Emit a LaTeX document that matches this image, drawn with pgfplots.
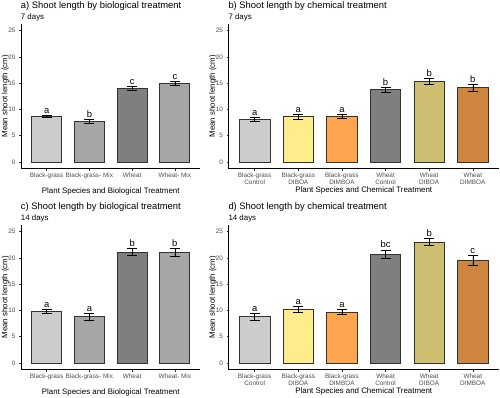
\documentclass[border=0pt]{standalone}
\usepackage{fontspec}
\setmainfont{Liberation Sans}
\usepackage{pgfplots}
\pgfplotsset{compat=1.18}

\definecolor{g80}{HTML}{CCCCCC}
\definecolor{g65}{HTML}{A6A6A6}
\definecolor{g50}{HTML}{7F7F7F}
\definecolor{ylw}{HTML}{FFEC8B}
\definecolor{org}{HTML}{FFA54F}
\definecolor{khk}{HTML}{CDBE70}
\definecolor{peru}{HTML}{CD853F}
\definecolor{tickgray}{HTML}{4D4D4D}

\pgfplotsset{
 panel/.style={
  scale only axis,
  height=144.5pt,
  ymin=-1.25, ymax=26.25,
  ytick={0,5,10,15,20,25},
  axis lines=left,
  axis line style={-, black, line width=0.6pt},
  tick align=outside,
  major tick length=2pt,
  tick style={black!80, line width=0.5pt},
  ticklabel style={font=\fontsize{6.4}{7.2}\selectfont, text=tickgray},
  /pgf/number format/assume math mode=true,
  xticklabel style={align=center, yshift=1.5pt},
  every axis y label/.style={at={([xshift=-15.7pt]axis description cs:0,0.5)}, rotate=90, anchor=center, font=\fontsize{7.8}{9}\selectfont},
  every axis x label/.style={at={(axis description cs:0.5,0)}, anchor=center, yshift=-22.5pt, font=\fontsize{7.9}{9}\selectfont},
  ylabel={Mean shoot length (cm)},
  clip=false,
 },
 bar/.style={ybar, bar shift=0pt, bar width=0.7, fill=#1, draw=black!80, line width=0.8pt,
   error bars/.cd, y dir=both, y explicit,
   error bar style={black, line width=0.6pt},
   error mark=-,
   error mark options={rotate=90, black, line width=0.6pt, mark size=5pt}},
}
\tikzset{ttl/.style={anchor=base west, inner sep=0pt, font=\fontsize{9.4}{11}\selectfont},
         sub/.style={anchor=base west, inner sep=0pt, font=\fontsize{7.9}{9}\selectfont},
         lbl/.style={anchor=base, yshift=2pt, inner sep=0pt, font=\fontsize{9.4}{11}\selectfont}}

\begin{document}
\begin{tikzpicture}
\useasboundingbox (0,0) rectangle (500pt,397pt);

% ---------- a ----------
\begin{axis}[panel, at={(21pt,228.5pt)}, anchor=south west, width=179.5pt,
  xmin=0.4, xmax=4.6, xtick={1,2,3,4},
  xticklabels={Black-grass, Black-grass- Mix, Wheat, Wheat- Mix},
  xlabel={Plant Species and Biological Treatment}]
\addplot[bar=g80] coordinates {(1,8.73) +- (0,0.2)};
\addplot[bar=g65] coordinates {(2,7.72) +- (0,0.42)};
\addplot[bar=g50] coordinates {(3,13.99) +- (0,0.42)};
\addplot[bar=g65] coordinates {(4,15.0) +- (0,0.4)};
\node[lbl] at (axis cs:1,8.93) {a};
\node[lbl] at (axis cs:2,8.14) {b};
\node[lbl] at (axis cs:3,14.41) {c};
\node[lbl] at (axis cs:4,15.4) {c};
\end{axis}

% ---------- b ----------
\begin{axis}[panel, at={(228.5pt,228.5pt)}, anchor=south west, width=270.5pt,
  xmin=0.4, xmax=6.6, xtick={1,2,3,4,5,6},
  xticklabels={Black-grass\\Control, Black-grass\\DIBOA, Black-grass\\DIMBOA, Wheat\\Control, Wheat\\DIBOA, Wheat\\DIMBOA},
  xlabel={Plant Species and Chemical Treatment},
  every axis x label/.append style={yshift=1pt}]
\addplot[bar=g80] coordinates {(1,8.14) +- (0,0.35)};
\addplot[bar=ylw] coordinates {(2,8.6) +- (0,0.4)};
\addplot[bar=org] coordinates {(3,8.73) +- (0,0.38)};
\addplot[bar=g50] coordinates {(4,13.73) +- (0,0.5)};
\addplot[bar=khk] coordinates {(5,15.3) +- (0,0.54)};
\addplot[bar=peru] coordinates {(6,14.1) +- (0,0.6)};
\node[lbl] at (axis cs:1,8.49) {a};
\node[lbl] at (axis cs:2,9.0) {a};
\node[lbl] at (axis cs:3,9.11) {a};
\node[lbl] at (axis cs:4,14.23) {b};
\node[lbl] at (axis cs:5,15.84) {b};
\node[lbl] at (axis cs:6,14.7) {b};
\end{axis}

% ---------- c ----------
\begin{axis}[panel, at={(21pt,27.5pt)}, anchor=south west, width=179.5pt,
  xmin=0.4, xmax=4.6, xtick={1,2,3,4},
  xticklabels={Black-grass, Black-grass- Mix, Wheat, Wheat- Mix},
  xlabel={Plant Species and Biological Treatment}]
\addplot[bar=g80] coordinates {(1,9.86) +- (0,0.4)};
\addplot[bar=g65] coordinates {(2,8.78) +- (0,0.6)};
\addplot[bar=g50] coordinates {(3,21.06) +- (0,0.67)};
\addplot[bar=g65] coordinates {(4,21.06) +- (0,0.8)};
\node[lbl] at (axis cs:1,10.26) {a};
\node[lbl] at (axis cs:2,9.38) {a};
\node[lbl] at (axis cs:3,21.73) {b};
\node[lbl] at (axis cs:4,21.86) {b};
\end{axis}

% ---------- d ----------
\begin{axis}[panel, at={(228.5pt,27.5pt)}, anchor=south west, width=270.5pt,
  xmin=0.4, xmax=6.6, xtick={1,2,3,4,5,6},
  xticklabels={Black-grass\\Control, Black-grass\\DIBOA, Black-grass\\DIMBOA, Wheat\\Control, Wheat\\DIBOA, Wheat\\DIMBOA},
  xlabel={Plant Species and Chemical Treatment},
  every axis x label/.append style={yshift=1pt}]
\addplot[bar=g80] coordinates {(1,8.83) +- (0,0.65)};
\addplot[bar=ylw] coordinates {(2,10.18) +- (0,0.55)};
\addplot[bar=org] coordinates {(3,9.67) +- (0,0.5)};
\addplot[bar=g50] coordinates {(4,20.67) +- (0,0.83)};
\addplot[bar=khk] coordinates {(5,23.03) +- (0,0.7)};
\addplot[bar=peru] coordinates {(6,19.53) +- (0,0.86)};
\node[lbl] at (axis cs:1,9.48) {a};
\node[lbl] at (axis cs:2,10.73) {a};
\node[lbl] at (axis cs:3,10.17) {a};
\node[lbl] at (axis cs:4,21.5) {bc};
\node[lbl] at (axis cs:5,23.73) {b};
\node[lbl] at (axis cs:6,20.39) {c};
\end{axis}

% titles
\node[ttl] at (20.7pt,388.7pt) {a) Shoot length by biological treatment};
\node[sub] at (20.7pt,377.7pt) {7 days};
\node[ttl] at (228.3pt,388.7pt) {b) Shoot length by chemical treatment};
\node[sub] at (228.3pt,377.7pt) {7 days};
\node[ttl] at (20.7pt,187.7pt) {c) Shoot length by biological treatment};
\node[sub] at (20.7pt,176.6pt) {14 days};
\node[ttl] at (228.3pt,187.7pt) {d) Shoot length by chemical treatment};
\node[sub] at (228.3pt,176.6pt) {14 days};
\end{tikzpicture}
\end{document}
